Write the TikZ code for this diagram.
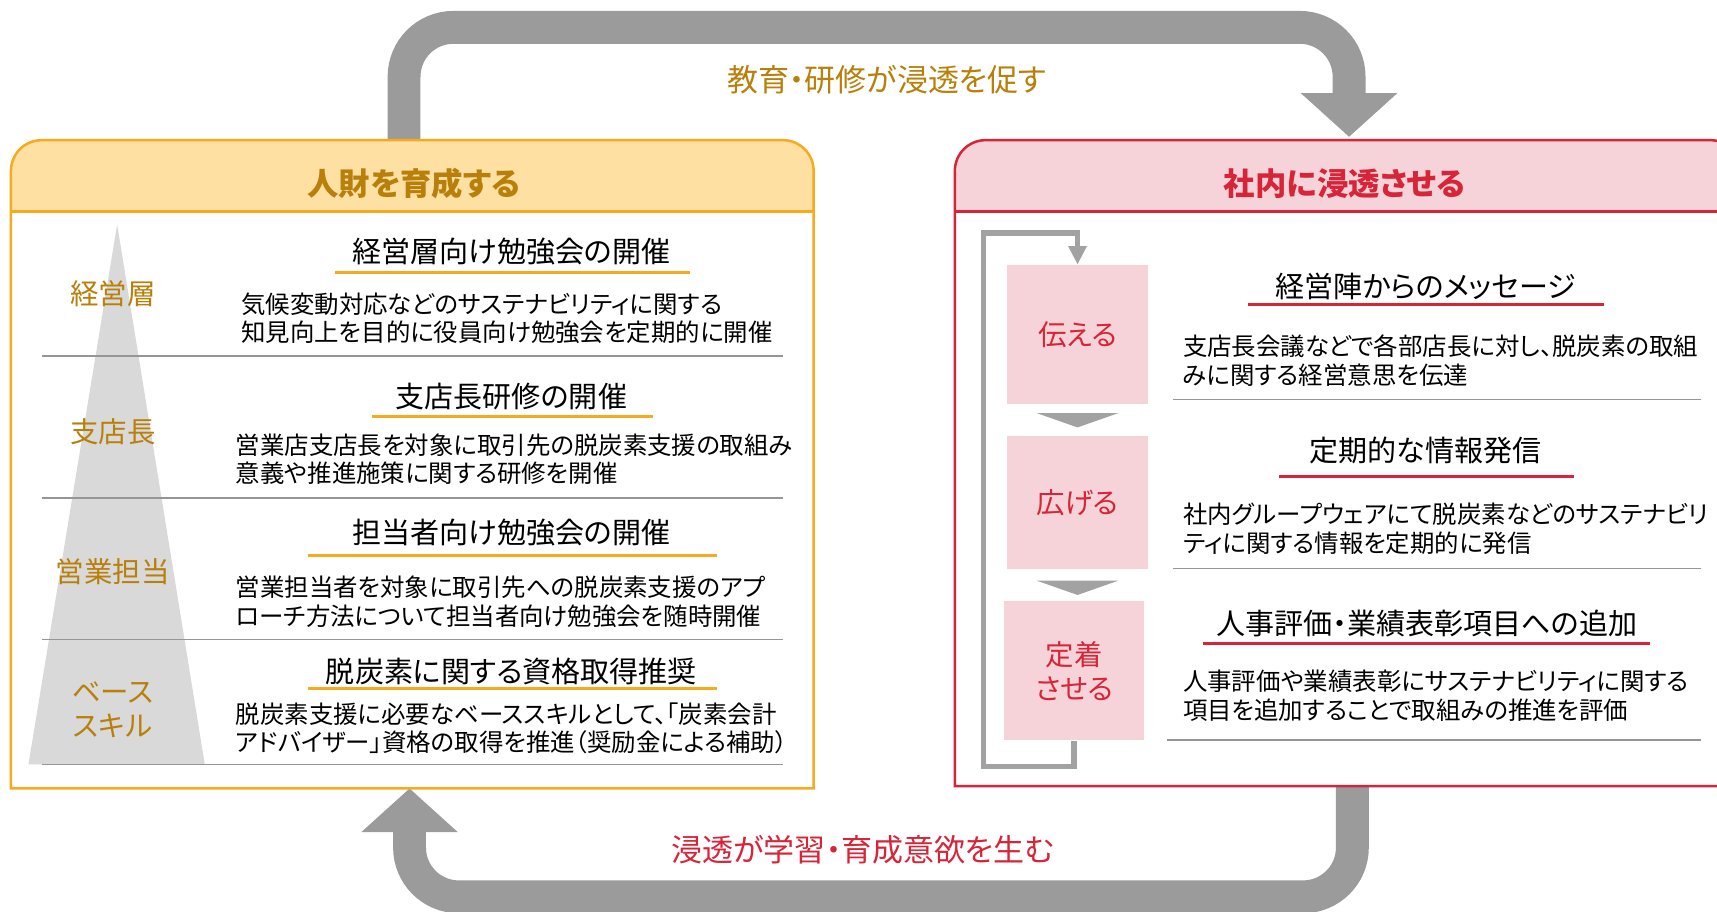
\documentclass[tikz,border=0pt]{standalone}
\usepackage{fontspec}
\setmainfont{Noto Sans CJK JP}[RawFeature=+palt]
\usetikzlibrary{arrows.meta,calc}

\definecolor{gold}{RGB}{184,128,10}
\definecolor{orangeline}{RGB}{248,170,30}
\definecolor{orangefill}{RGB}{253,224,162}
\definecolor{crimson}{RGB}{216,36,56}
\definecolor{pinkfill}{RGB}{246,211,216}
\definecolor{bandgray}{RGB}{155,155,155}
\definecolor{loopgray}{RGB}{162,162,162}
\definecolor{pyrgray}{RGB}{217,217,217}
\definecolor{sepgray}{RGB}{150,150,150}

\newcommand\hdrfont{\fontsize{16.3}{19}\selectfont\bfseries}
\newcommand\ttlfont{\fontsize{15.1}{18}\selectfont}
\newcommand\dscfont{\fontsize{12.7}{14.8}\selectfont}
\newcommand\lvlfont{\fontsize{14.8}{17.6}\selectfont}
\newcommand\arrfont{\fontsize{16.1}{18}\selectfont}

\begin{document}
\begin{tikzpicture}[x=0.02cm,y=0.02cm,
  bigarrow/.style={draw=bandgray, line width=0.6cm, rounded corners=0.9cm,
    -{Triangle[width=1.72cm,length=0.8cm]}},
  lbox/.style={draw=orangeline, line width=1.3pt},
  rbox/.style={draw=crimson, line width=1.3pt},
  sepline/.style={draw=sepgray, line width=0.8pt},
  ulorange/.style={draw=orangeline, line width=1.6pt},
  ulcrimson/.style={draw=crimson, line width=1.6pt},
  lvl/.style={font=\lvlfont, text=gold, align=center, inner sep=0},
  ttl/.style={font=\ttlfont, inner sep=0},
  dsc/.style={font=\dscfont, anchor=west, align=left, inner sep=0},
  stepbox/.style={fill=pinkfill, minimum width=2.56cm, minimum height=2.54cm,
    inner sep=0, text=crimson, font=\lvlfont, align=center},
  loopline/.style={draw=loopgray, line width=0.1cm,
    -{Triangle[width=0.32cm,length=0.34cm]}}]

\useasboundingbox (0,0) rectangle (1568,832);
\clip (0,0) rectangle (1568,832);
\fill [white] (0,0) rectangle (1568,832);

\coordinate (topstart) at (369,702);
\coordinate (topend) at (1232,707);
\coordinate (botstart) at (1235,114);
\coordinate (botend) at (374,112);

\draw [bigarrow] (topstart) -- (369,807) -- (1232,807) -- (topend);
\draw [bigarrow] (botstart) -- (1235,13) -- (374,13) -- (botend);

\node [font=\arrfont, text=gold] (toplbl) at (810,759) {教育・研修が浸透を促す};
\node [font=\arrfont, text=crimson] (botlbl) at (788,56) {浸透が学習・育成意欲を生む};


\fill [white] (10,112) rectangle (743,639);
\fill [orangefill] (10,639) -- (10,676) arc[start angle=180,end angle=90,radius=28]
  -- (715,704) arc[start angle=90,end angle=0,radius=28] -- (743,639) -- cycle;
\draw [lbox] (10,112) -- (10,676) arc[start angle=180,end angle=90,radius=28]
  -- (715,704) arc[start angle=90,end angle=0,radius=28] -- (743,112) -- cycle;
\draw [lbox] (10,639) -- (743,639);

\node [font=\hdrfont, text=gold] (hdrL) at (378,664) {人財を育成する};

\fill [pyrgray] (107,627) -- (26,134) -- (187,134) -- cycle;

\foreach \y in {507,377,248,134}
  \draw [sepline] (38,\y) -- (715,\y);

\node [lvl] (lvA) at (103,564) {経営層};
\node [lvl] (lvB) at (103,438) {支店長};
\node [lvl] (lvC) at (103,310) {営業担当};
\node [lvl] (lvD) at (103,184) {ベース\\スキル};

\node [ttl] (ttA) at (467,602) {経営層向け勉強会の開催};
\node [ttl] (ttB) at (467,470) {支店長研修の開催};
\node [ttl] (ttC) at (467,346) {担当者向け勉強会の開催};
\node [ttl] (ttD) at (467,219) {脱炭素に関する資格取得推奨};

\draw [ulorange] (306,583.5) -- (630,583.5);
\draw [ulorange] (340,452) -- (596,452);
\draw [ulorange] (281,324.5) -- (655,324.5);
\draw [ulorange] (281,203) -- (655,203);

\node [dsc] (dsA) at (220,541.5) {気候変動対応などのサステナビリティに関する\\知見向上を目的に役員向け勉強会を定期的に開催};
\node [dsc] (dsB) at (215,412.5) {営業店支店長を対象に取引先の脱炭素支援の取組み\\意義や推進施策に関する研修を開催};
\node [dsc] (dsC) at (215,282.5) {営業担当者を対象に取引先への脱炭素支援のアプ\\ローチ方法について担当者向け勉強会を随時開催};
\node [dsc] (dsD) at (215,167) {脱炭素支援に必要なベーススキルとして、「炭素会計\\アドバイザー」資格の取得を推進（奨励金による補助）};


\fill [white] (872,114) rectangle (1590,639);
\fill [pinkfill] (872,639) -- (872,676) arc[start angle=180,end angle=90,radius=28]
  -- (1562,704) arc[start angle=90,end angle=0,radius=28] -- (1590,639) -- cycle;
\draw [rbox] (872,114) -- (872,676) arc[start angle=180,end angle=90,radius=28]
  -- (1562,704) arc[start angle=90,end angle=0,radius=28] -- (1590,114) -- cycle;
\draw [rbox] (872,639) -- (1590,639);

\node [font=\hdrfont, text=crimson] (hdrR) at (1228,664) {社内に浸透させる};

\node [stepbox] (tsu) at (984,526.5) {伝える};
\node [stepbox, minimum height=2.44cm] (hiro) at (984,373) {広げる};
\node [stepbox] (tei) at (981,219.5) {定着\\させる};

\fill [loopgray] ($(tsu.south)+(-37,-8)$) -- ($(tsu.south)+(37,-8)$) -- ($(tsu.south)+(0,-21)$) -- cycle;
\fill [loopgray] ($(hiro.south)+(-37,-10)$) -- ($(hiro.south)+(37,-10)$) -- ($(hiro.south)+(0,-23)$) -- cycle;

\coordinate (loopbl) at (898,132);
\coordinate (looptl) at (898,619);
\draw [loopline] (tei.south) |- (loopbl) -- (looptl) -| (tsu.north);

\node [ttl] (ttE) at (1302,570) {経営陣からのメッセージ};
\node [ttl] (ttF) at (1302,421) {定期的な情報発信};
\node [ttl] (ttG) at (1303,263) {人事評価・業績表彰項目への追加};

\draw [ulcrimson] (1140,554) -- (1465,554);
\draw [ulcrimson] (1168,397) -- (1437,397);
\draw [ulcrimson] (1099,244) -- (1507,244);

\node [dsc] (dsE) at (1080,502.5) {支店長会議などで各部店長に対し、脱炭素の取組\\みに関する経営意思を伝達};
\node [dsc] (dsF) at (1080,349) {社内グループウェアにて脱炭素などのサステナビリ\\ティに関する情報を定期的に発信};
\node [dsc] (dsG) at (1080,196.5) {人事評価や業績表彰にサステナビリティに関する\\項目を追加することで取組みの推進を評価};

\draw [sepline] (1071,467) -- (1553,467);
\draw [sepline] (1071,313) -- (1553,313);
\draw [sepline] (1066,156) -- (1553,156);

\end{tikzpicture}
\end{document}
